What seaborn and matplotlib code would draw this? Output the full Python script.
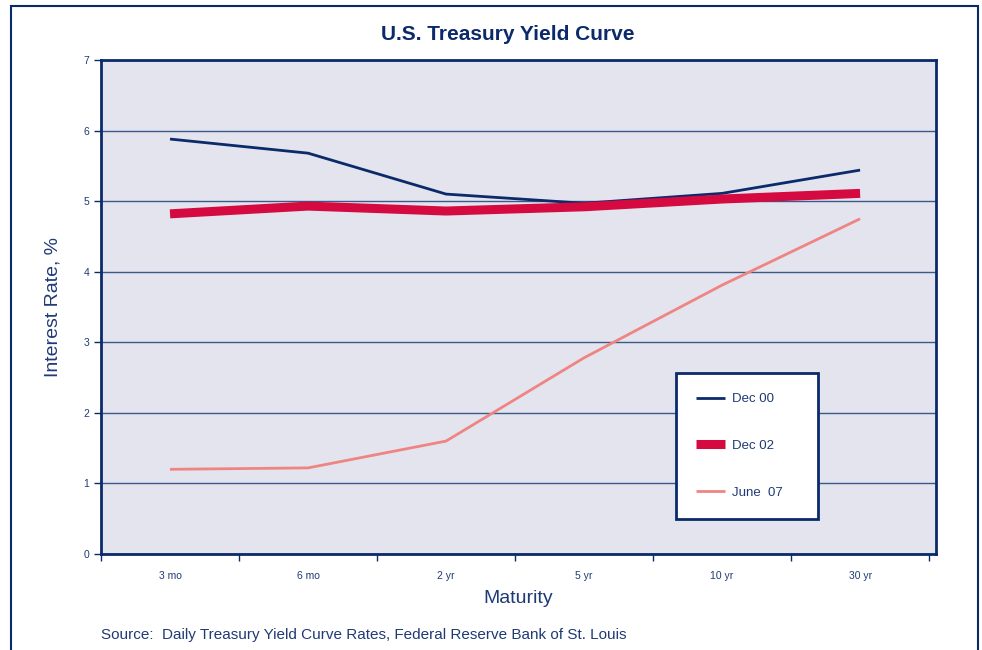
import numpy as np
import pandas as pd
import matplotlib
matplotlib.use("Agg")
import matplotlib.pyplot as plt
from matplotlib.patches import Rectangle
import seaborn as sns

# values
maturities = ["3 mo", "6 mo", "2 yr", "5 yr", "10 yr", "30 yr"]
dec_00 = [5.88, 5.68, 5.10, 4.97, 5.11, 5.44]
dec_02 = [4.82, 4.93, 4.86, 4.92, 5.03, 5.11]
june_07 = [1.20, 1.22, 1.60, 2.78, 3.81, 4.75]
series_names = ["Dec 00", "Dec 02", "June  07"]

navy = "#0b2a6a"
text_col = "#1f3a75"
colors = {"Dec 00": "#0b2a6a", "Dec 02": "#d40a40", "June  07": "#ef8582"}
widths = {"Dec 00": 2.0, "Dec 02": 6.5, "June  07": 2.0}

pos = np.arange(len(maturities))
df = pd.DataFrame({
    "pos": np.tile(pos, 3),
    "rate": dec_00 + dec_02 + june_07,
    "series": np.repeat(series_names, len(maturities)),
})

sns.set_theme(style="white")
plt.rcParams["font.family"] = ["Liberation Sans", "DejaVu Sans"]

fig = plt.figure(figsize=(9.82, 6.5), dpi=100)
ax = fig.add_axes([101 / 982, 96 / 650, 835 / 982, 494 / 650])
ax.set_facecolor("#e4e4ee")

for name in series_names:
    sub = df[df["series"] == name]
    sns.lineplot(data=sub, x="pos", y="rate", ax=ax, color=colors[name],
                 linewidth=widths[name], label=name, zorder=3,
                 solid_capstyle="butt", solid_joinstyle="miter")

ax.set_xlim(-0.5, 5.55)
ax.set_ylim(0, 7)
ax.set_yticks(range(0, 8))
ax.yaxis.grid(True, color="#3a5a8c", linewidth=1.0)
ax.set_axisbelow(True)

ax.set_xticks(pos)
ax.set_xticklabels(maturities)
ax.set_xticks(np.arange(-0.5, 6.0, 1.0), minor=True)
ax.tick_params(axis="x", which="major", length=0, pad=12, labelsize=7.5, colors=text_col)
ax.tick_params(axis="x", which="minor", length=5, width=1, color=navy, bottom=True)
ax.tick_params(axis="y", length=5, width=1, color=navy, left=True, labelsize=7.5,
               labelcolor=text_col)

for s in ax.spines.values():
    s.set_color(navy)
    s.set_linewidth(2)

ax.set_xlabel("Maturity", fontsize=14, color=text_col, labelpad=7)
ax.set_ylabel("Interest Rate, %", fontsize=14, color=text_col, labelpad=16)

leg = ax.legend(loc="lower left", bbox_to_anchor=(575 / 835, 35 / 494, 142 / 835, 147 / 494),
                mode="expand", borderaxespad=0, frameon=True, fancybox=False, fontsize=9.5,
                labelspacing=2.6, handlelength=2.2, borderpad=1.55, handletextpad=0.5)
leg.get_frame().set_edgecolor(navy)
leg.get_frame().set_linewidth(2)
leg.get_frame().set_facecolor("white")
leg.get_frame().set_alpha(1)
for t in leg.get_texts():
    t.set_color(text_col)

fig.suptitle("U.S. Treasury Yield Curve", x=0.517, y=0.962, fontsize=15, fontweight="bold",
             color=navy, family=["Liberation Sans Narrow", "Liberation Sans", "DejaVu Sans"])
fig.text(101 / 982, 1 - 635 / 650, "Source:  Daily Treasury Yield Curve Rates, Federal Reserve Bank of St. Louis",
         fontsize=11, color=text_col, va="center")

fig.patches.append(Rectangle((11 / 982, -0.1), 967 / 982, 1.1 - 6 / 650,
                             transform=fig.transFigure, fill=False,
                             edgecolor=navy, linewidth=1.5))

fig.savefig("out.png", dpi=100)
